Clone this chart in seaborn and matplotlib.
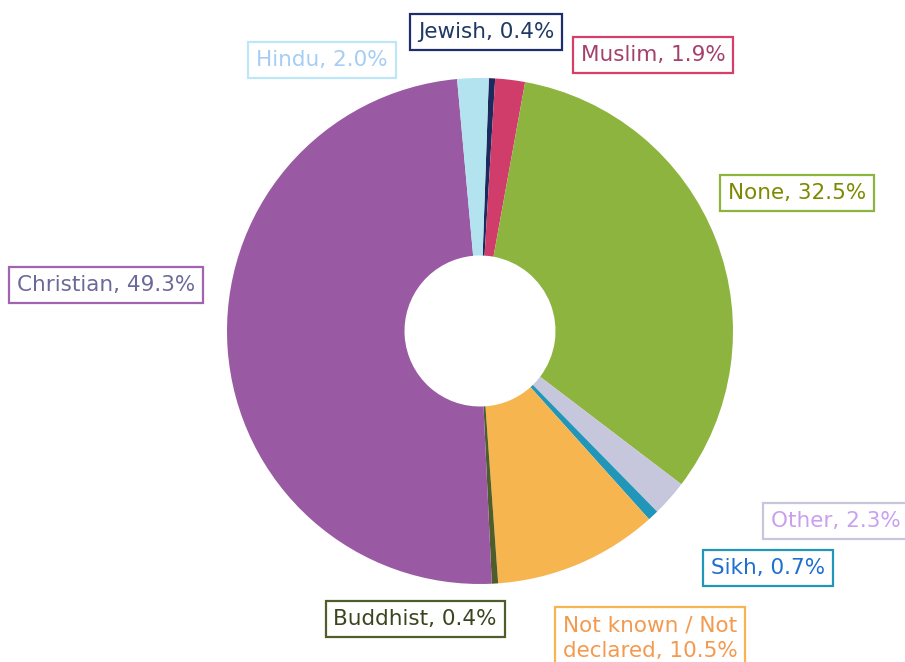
"""
Donut chart of religion shares, recreated with seaborn/matplotlib.
"""

import matplotlib
matplotlib.use("Agg")
import matplotlib.pyplot as plt
import seaborn as sns

# data (clockwise from just right of 12 o'clock)
religions = ["Jewish", "Muslim", "None", "Other", "Sikh",
             "Not known / Not\ndeclared", "Buddhist", "Christian", "Hindu"]
shares = [0.4, 1.9, 32.5, 2.3, 0.7, 10.5, 0.4, 49.3, 2.0]

slice_colors = ["#1b2a5e", "#d03d6a", "#8cb43f", "#c6c7dc", "#2196b8",
                "#f7b550", "#4f5d2a", "#9a59a3", "#b3e3ef"]
text_colors = ["#1f3864", "#a3406c", "#7c8a00", "#c9a0f0", "#1f6fcf",
               "#f39a4e", "#3a4520", "#6a6a9a", "#a6cdf5"]
edge_colors = ["#1f2d6e", "#d63f6a", "#8cb43f", "#c6c7dc", "#2196b8",
               "#f7b550", "#4f5d2a", "#a064b0", "#bfe6f7"]

# label box centres in pixels (x from left, y from top)
label_pos = [(486, 32), (653, 55), (797, 193), (836, 521), (768, 568),
             (650, 638), (415, 619), (106, 285), (322, 60)]


def main() -> None:
    sns.set_theme(style="white")
    plt.rcParams["font.family"] = ["DejaVu Sans"]

    W, H = 905, 662
    fig = plt.figure(figsize=(W / 100, H / 100), dpi=100)
    ax = fig.add_axes([0, 0, 1, 1])

    cx, cy, r = 480, 331, 253
    ax.pie(
        shares,
        colors=slice_colors,
        startangle=88,
        counterclock=False,
        radius=1,
        wedgeprops=dict(width=1 - 75.5 / 253, edgecolor="none"),
    )
    ax.set_xlim(-cx / r, (W - cx) / r)
    ax.set_ylim(-(H - cy) / r, cy / r)
    ax.set_aspect("equal")
    ax.axis("off")

    for name, val, (px, py), tc, ec in zip(religions, shares, label_pos,
                                           text_colors, edge_colors):
        fig.text(
            px / W, 1 - py / H, f"{name}, {val:.1f}%",
            ha="center", va="center", fontsize=15.5, color=tc,
            linespacing=1.35,
            bbox=dict(boxstyle="square,pad=0.36", fc="white", ec=ec, lw=1.6),
        )

    fig.savefig("out.png", dpi=100)


if __name__ == "__main__":
    main()
